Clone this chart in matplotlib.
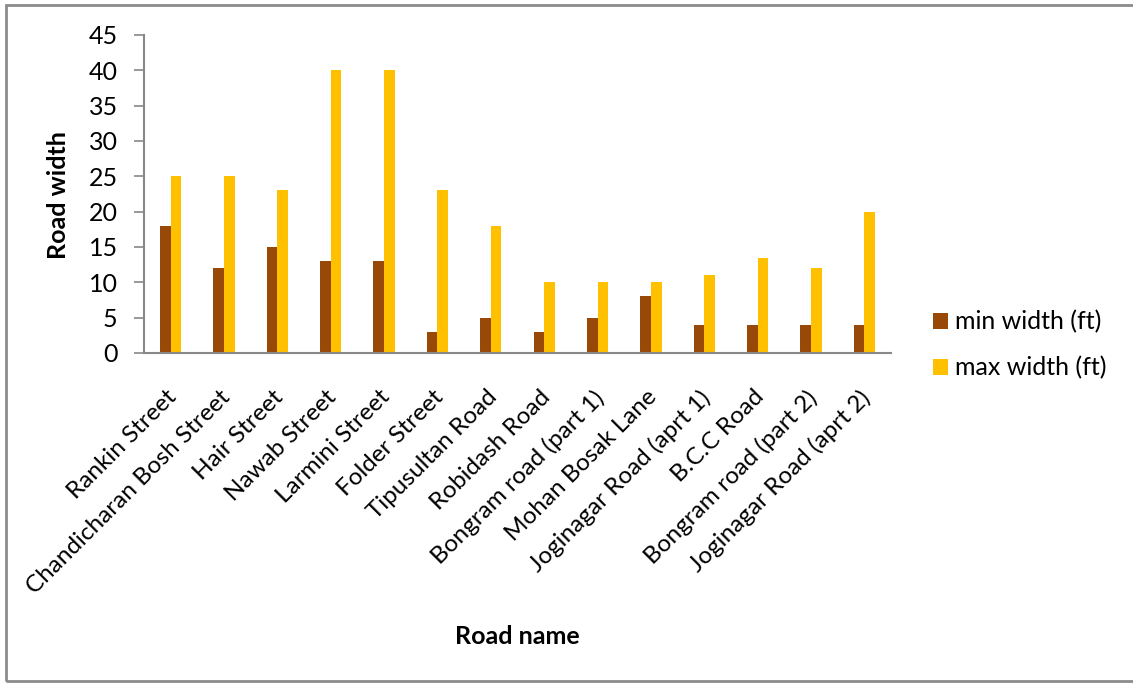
import matplotlib.pyplot as plt
import matplotlib.transforms as mtransforms
import numpy as np
from matplotlib.patches import Rectangle

roads = ["Rankin Street", "Chandicharan Bosh Street", "Hair Street", "Nawab Street",
         "Larmini Street", "Folder Street", "Tipusultan Road", "Robidash Road",
         "Bongram road (part 1)", "Mohan Bosak Lane", "Joginagar Road (aprt 1)",
         "B.C.C Road", "Bongram road (part 2)", "Joginagar Road (aprt 2)"]
min_width = [18, 12, 15, 13, 13, 3, 5, 3, 5, 8, 4, 4, 4, 4]
max_width = [25, 25, 23, 40, 40, 23, 18, 10, 10, 10, 11, 13.5, 12, 20]
y_ticks = [0, 5, 10, 15, 20, 25, 30, 35, 40, 45]

plt.rcParams['font.family'] = ['Lato', 'DejaVu Sans']

fig = plt.figure(figsize=(11.33, 6.84), dpi=100)
# outer chart frame (right edge runs off the picture)
fig.patches.append(Rectangle((6 / 1133, 3 / 684), 1.0, 676 / 684, transform=fig.transFigure,
                             fill=False, edgecolor='#8c8c8c', linewidth=2))

ax = fig.add_axes([144 / 1133, 1 - 353 / 684, (891 - 144) / 1133, (353 - 35) / 684])

x = np.arange(len(roads))
w = 0.2
ax.bar(x - w / 2, min_width, w, color='#984807', label='min width (ft)')
ax.bar(x + w / 2, max_width, w, color='#FFC000', label='max width (ft)')

ax.set_xlim(-0.5, len(roads) - 0.5)
ax.set_ylim(0, 45)
ax.set_yticks(y_ticks)
ax.tick_params(axis='y', labelsize=18, length=7, color='#888888', width=1.2, pad=12)
ax.tick_params(axis='x', length=0, labelsize=17.5, pad=24)
ax.set_xticks(x)
ax.set_xticklabels(roads, rotation=45, ha='right', rotation_mode='anchor')
shift = mtransforms.ScaledTranslation(-5 / 100, 0, fig.dpi_scale_trans)
for lbl in ax.get_xticklabels():
    lbl.set_transform(lbl.get_transform() + shift)

for s in ['top', 'right']:
    ax.spines[s].set_visible(False)
for s in ['left', 'bottom']:
    ax.spines[s].set_color('#888888')
    ax.spines[s].set_linewidth(1.5)

fig.text(58 / 1133, 1 - 195 / 684, "Road width", rotation=90, fontsize=18, fontweight='bold',
         ha='center', va='center')
fig.text(517 / 1133, 1 - 637 / 684, "Road name", fontsize=18, fontweight='bold',
         ha='center', va='center')

fig.legend(loc='center left', bbox_to_anchor=(910 / 1133, 1 - 345 / 684), frameon=False,
           fontsize=18, handlelength=0.6, handleheight=0.6, handletextpad=0.3, labelspacing=0.9)

fig.savefig("out.png", dpi=100)
